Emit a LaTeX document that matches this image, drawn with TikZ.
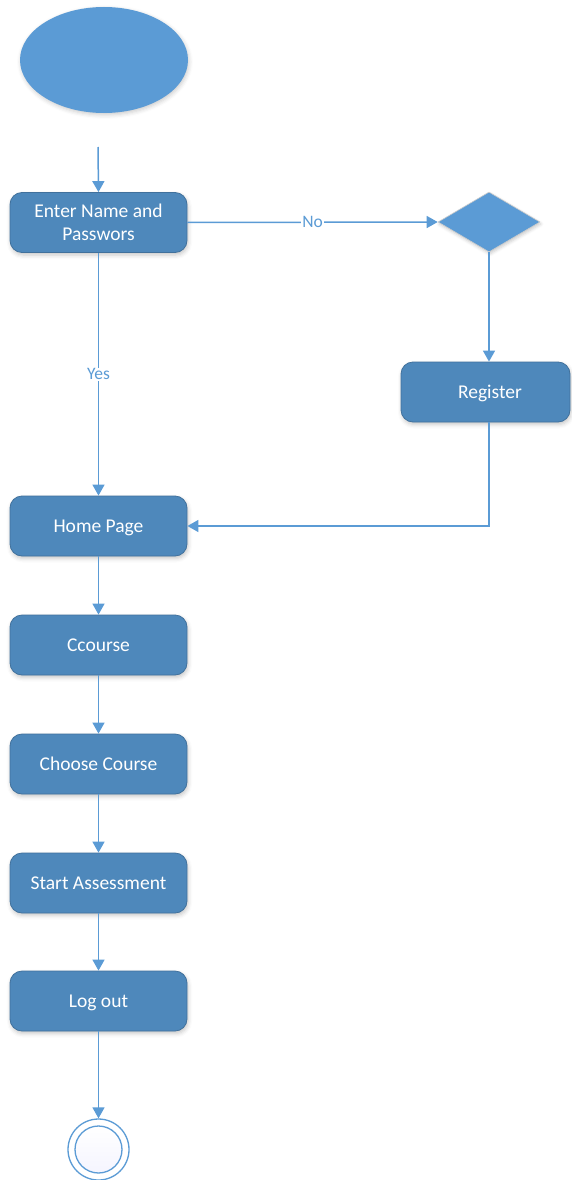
\documentclass[tikz,border=0pt]{standalone}
\usepackage{fontspec}
\setmainfont{Carlito}
\usetikzlibrary{arrows.meta,shapes.geometric,shadows.blur}

\definecolor{stepfill}{RGB}{78,136,187}
\definecolor{stepedge}{RGB}{65,113,156}
\definecolor{lightblue}{RGB}{91,155,213}

\begin{document}
\begin{tikzpicture}[x=1pt,y=-1pt,
  stepbox/.style={rectangle, rounded corners=12pt, fill=stepfill, draw=stepedge,
    line width=0.8pt, minimum width=177pt, minimum height=60pt, text=white,
    font=\fontsize{19.5}{23.5}\selectfont, align=center,
    text height=16pt, text depth=3.5pt,
    blur shadow={shadow xshift=1pt, shadow yshift=-2.5pt, shadow blur radius=4pt, shadow opacity=22}},
  flow/.style={draw=lightblue, line width=1.5pt, -{Triangle[length=11pt,width=12pt]}},
  edgelabel/.style={fill=white, text=lightblue, inner sep=1pt,
    font=\fontsize{17.5}{20}\selectfont}
]
\useasboundingbox (0,0) rectangle (571,1180);

% initial state
\node (start) [ellipse, fill=lightblue, minimum width=168pt, minimum height=106pt, inner sep=0pt,
  blur shadow={shadow xshift=1pt, shadow yshift=-2pt, shadow blur radius=4pt, shadow opacity=20}] at (104,60) {};
\coordinate (startarrow) at (98,147);

% activities
\node (login) [stepbox, text height=, text depth=] at (98.5,222.5) {Enter Name and\\Passwors};
\node (check) [diamond, fill=lightblue, draw=gray!40, line width=0.6pt, aspect=1.7,
  minimum width=102pt, minimum height=60pt, inner sep=0pt,
  blur shadow={shadow xshift=1pt, shadow yshift=-2pt, shadow blur radius=3pt, shadow opacity=20}] at (489,222) {};
\node (register) [stepbox, minimum width=169pt] at (485.5,392) {\hspace*{9pt}Register};
\node (home) [stepbox] at (98.5,526) {Home Page};
\node (course) [stepbox] at (98.5,645) {Ccourse};
\node (choose) [stepbox] at (98.5,764) {Choose Course};
\node (assess) [stepbox] at (98.5,883) {Start Assessment};
\node (logout) [stepbox] at (98.5,1001) {Log out};

% final state
\node (final) [circle, draw=lightblue, line width=1.3pt, minimum size=61pt, inner sep=0pt, fill=white] at (98.5,1149.5) {};
\node (finalin) [circle, draw=lightblue, line width=1.3pt, minimum size=47pt, inner sep=0pt,
  top color=white, bottom color=blue!4] at (final.center) {};

% connectors
\draw[flow] (startarrow) -- (login.north);
\draw[flow] (login.east) -- node[edgelabel, pos=0.5] {No} (check.west);
\draw[flow] (check.south) -- (check.south |- register.north);
\draw[flow] (login.south) -- node[edgelabel, pos=0.5] {Yes} (home.north);
\draw[flow] (check.south |- register.south) |- (home.east);
\draw[flow] (home.south) -- (course.north);
\draw[flow] (course.south) -- (choose.north);
\draw[flow] (choose.south) -- (assess.north);
\draw[flow] (assess.south) -- (logout.north);
\draw[flow] (logout.south) -- (final.north);
\end{tikzpicture}
\end{document}
